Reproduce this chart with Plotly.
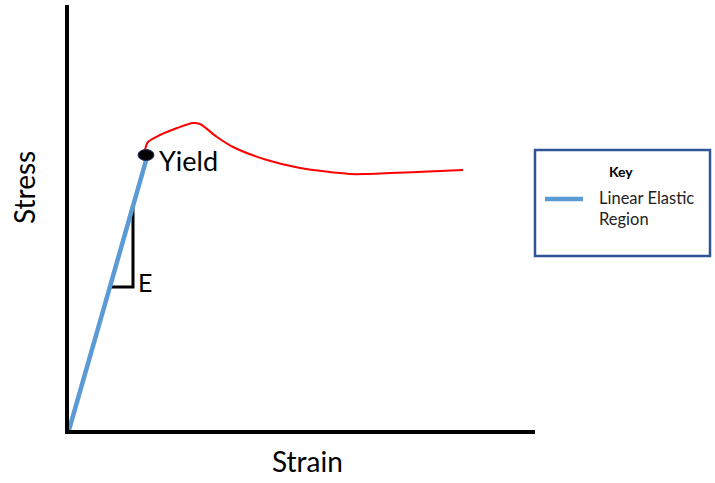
import plotly.graph_objects as go

# Data (arbitrary units: strain, stress)
elastic_strain = [0, 78]
elastic_stress = [0, 273]

plastic_strain = [76, 79, 91, 108, 124, 131, 148, 164, 198, 231, 281, 298, 348, 394]
plastic_stress = [280, 288, 295, 302, 307, 306, 293, 283, 270, 262, 256, 256, 258, 260]

yield_strain = [77]
yield_stress = [275]

tri_strain = [41, 64, 64, 41]
tri_stress = [143, 143, 225, 143]

W, H = 715, 483
L, R, T, B = 69, 535, 5, 430
XMAX, YMAX = R - L, B - T

def pxx(x):
    return (x - L) / (R - L)

def pyy(y):
    return (B - y) / (B - T)

BLUE = "#5B9BD5"
FONT = "Lato, Liberation Sans, Arial, sans-serif"
fig = go.Figure()

fig.add_trace(go.Scatter(x=tri_strain, y=tri_stress, mode="lines",
                         line=dict(color="black", width=3), showlegend=False,
                         hoverinfo="skip"))
fig.add_trace(go.Scatter(x=elastic_strain, y=elastic_stress, mode="lines",
                         line=dict(color=BLUE, width=4.5), name="Linear Elastic Region",
                         showlegend=False))
fig.add_trace(go.Scatter(x=plastic_strain, y=plastic_stress, mode="lines",
                         line=dict(color="red", width=2, shape="spline", smoothing=0.8),
                         showlegend=False))

# Yield marker ellipse
fig.add_shape(type="circle", xref="x", yref="y",
              x0=yield_strain[0] - 8, x1=yield_strain[0] + 8,
              y0=yield_stress[0] - 5.5, y1=yield_stress[0] + 5.5,
              fillcolor="black", line=dict(color="#1F3864", width=1))

fig.add_annotation(x=pxx(157), y=pyy(160), xref="paper", yref="paper", text="Yield",
                   showarrow=False, xanchor="left", yanchor="middle",
                   font=dict(size=27, color="black", family=FONT))
fig.add_annotation(x=pxx(136), y=pyy(282), xref="paper", yref="paper", text="E",
                   showarrow=False, xanchor="left", yanchor="middle",
                   font=dict(size=25, color="black", family=FONT))

# Axis titles
fig.add_annotation(x=pxx(307), y=pyy(461), xref="paper", yref="paper", text="Strain",
                   showarrow=False, xanchor="center", yanchor="middle",
                   font=dict(size=28, color="black", family=FONT))
fig.add_annotation(x=pxx(24), y=pyy(188), xref="paper", yref="paper", text="Stress",
                   showarrow=False, xanchor="center", yanchor="middle", textangle=-90,
                   font=dict(size=28, color="black", family=FONT))

# Key box
fig.add_shape(type="rect", xref="paper", yref="paper",
              x0=pxx(535), x1=pxx(710), y0=pyy(150), y1=pyy(256),
              line=dict(color="#2F5597", width=2.5), fillcolor="white", layer="above")
fig.add_shape(type="line", xref="paper", yref="paper",
              x0=pxx(545), x1=pxx(583), y0=pyy(199), y1=pyy(199),
              line=dict(color=BLUE, width=4.5))
fig.add_annotation(x=pxx(621), y=pyy(171), xref="paper", yref="paper", text="<b>Key</b>",
                   showarrow=False, xanchor="center", yanchor="middle",
                   font=dict(size=14, color="black", family=FONT))
fig.add_annotation(x=pxx(597), y=pyy(208.5), xref="paper", yref="paper",
                   text="Linear Elastic<br>Region", align="left",
                   showarrow=False, xanchor="left", yanchor="middle",
                   font=dict(size=16.5, color="#222", family=FONT))

fig.update_layout(
    width=W, height=H,
    margin=dict(l=L, r=W - R, t=T, b=H - B, pad=0),
    paper_bgcolor="white", plot_bgcolor="white",
    showlegend=False,
    xaxis=dict(range=[0, XMAX], showgrid=False, zeroline=False, showticklabels=False,
               ticks="", showline=True, linecolor="black", linewidth=3.5),
    yaxis=dict(range=[0, YMAX], showgrid=False, zeroline=False, showticklabels=False,
               ticks="", showline=True, linecolor="black", linewidth=3.5),
)

fig.write_html("out.html", config={"displayModeBar": False},
               post_script="document.body.style.margin='0px';")
